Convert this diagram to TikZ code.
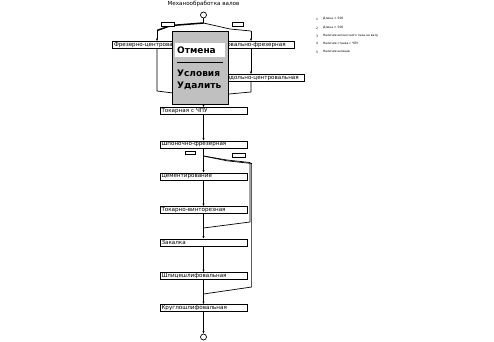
\documentclass[tikz,border=0pt]{standalone}
\usepackage{fontspec}
\setmainfont{DejaVu Sans}
\usetikzlibrary{positioning,arrows.meta}
\definecolor{menugray}{RGB}{192,192,192}

\begin{document}
\begin{tikzpicture}[x=1pt,y=-1pt,
  opbox/.style={draw,line width=0.7pt,fill=white,minimum height=7pt,
    text width=84pt,inner xsep=1.5pt,inner ysep=0pt,align=left,
    font=\fontsize{5.6}{6}\selectfont},
  cond/.style={draw,line width=0.7pt,fill=white,inner sep=0pt,
    minimum width=12pt,minimum height=3.5pt},
  flow/.style={line width=0.7pt,-{Latex[length=2.5pt,width=2.2pt]}},
  link/.style={line width=0.7pt},
  item/.style={anchor=west,inner sep=0pt,font=\bfseries\fontsize{9}{9}\selectfont},
  legtxt/.style={anchor=west,inner sep=0pt,font=\fontsize{3}{3}\selectfont}]

  \useasboundingbox (0,0) rectangle (494,341);

  % --- column position ---
  \def\cx{203.5}  % main line
  \def\lx{157}    % left branch
  \def\rx{251}    % right branch

  % --- title, start and end ---
  \node[font=\fontsize{5.6}{6}\selectfont] (title) at (\cx,4) {Механообработка валов};
  \node[draw,circle,minimum size=6pt,inner sep=0pt,line width=0.7pt] (start) at (\cx,15) {};
  \node[draw,circle,minimum size=6pt,inner sep=0pt,line width=0.7pt] (fin) at (\cx,337) {};

  % --- first operations ---
  \node[opbox] (frez) at (156,45) {Фрезерно-центровальная};
  \node[opbox] (cfr)  at (251,45) {Центровально-фрезерная};
  \node[opbox] (cnt)  at (261,78) {Продольно-центровальная};

  % --- main column ---
  \foreach \nm/\yy/\txt in {tok/111/Токарная с ЧПУ,
                            shp/144.5/Шпоночно-фрезерная,
                            cem/176.5/Цементирование,
                            vint/210/Токарно-винторезная,
                            zak/242.5/Закалка,
                            shl/276/Шлицешлифовальная,
                            krug/308/Круглошлифовальная} {
    \node[opbox] (\nm) at (\cx,\yy) {\txt};
  }

  % --- upper branches ---
  \coordinate (s1) at (\cx,23);
  \coordinate (ul) at (\lx,30.5);
  \coordinate (ur) at (\rx,31);
  \coordinate (mrg) at (\cx,100);
  \draw[link] (start) -- (s1);
  \draw[line width=1.5pt] (s1) -- (171,25.5) -- (ul);
  \draw[flow] (ul) -- (ul |- frez.north);
  \draw[link] (s1) -- (230,29) -- (ur);
  \draw[flow] (ur) -- (ur |- cfr.north);
  \draw[flow] (cfr.south -| ur) -- (cnt.north -| ur);
  \draw[link] (frez.south -| ul) -- (\lx,91) -- (173,93) -- (mrg);
  \draw[link] (cnt.south -| ur) -- (\rx,92) -- (229,94) -- (mrg);
  \draw[flow] (mrg) -- (tok);

  % --- main flow ---
  \draw[flow] (tok) -- (shp);
  \draw[flow] (shp) -- (cem);
  \draw[flow] (cem) -- (vint);
  \draw[flow] (vint) -- (zak);
  \draw[flow] (zak) -- (shl);
  \draw[flow] (shl) -- (krug);
  \draw[flow] (krug) -- (fin);

  % --- lower bypass ---
  \coordinate (b1) at (\cx,156);
  \coordinate (j1) at (\cx,228);
  \coordinate (j2) at (\cx,294);
  \draw[link] (b1) -- (227,160) -- (250,162.5) -- (250,222) -- (j1);
  \draw[link] (b1) -- (227,160.8) -- (251.6,163.5) -- (251.6,287) -- (j2);

  % --- conditions ---
  \node[cond,minimum width=13pt] (cu1) at (167.5,24.5) {};
  \node[cond,minimum width=11pt] (cu2) at (238,24.5) {};
  \node[cond,minimum width=10pt,minimum height=3pt] (cm1) at (190,153) {};
  \node[cond,minimum width=13pt] (cm2) at (238.5,155.5) {};

  % --- legend ---
  \foreach \k/\yy/\txt in {1/19/Длина < 500,
                           2/28/Длина > 500,
                           3/36/Наличие шпоночного паза на валу,
                           4/43/Наличие станка с ЧПУ,
                           5/52/Наличие шлицев} {
    \node[legtxt] (n\k) at (316,\yy) {\k};
    \node[legtxt] (l\k) at (323,\yy) {\txt};
  }

  % --- popup menu ---
  \node[draw,line width=1pt,fill=menugray,minimum width=56pt,minimum height=73pt,
    inner sep=0pt,anchor=north west] (menu) at (172,31) {};
  \node[fill=white,minimum width=50pt,minimum height=14pt,inner sep=0pt] (hl) at (200,50) {};
  \node[item] (otm) at (177,50) {Отмена};
  \draw[line width=0.8pt] (177,62) -- (223,62);
  \node[item] (usl) at (177,73) {Условия};
  \node[item] (udl) at (177,86) {Удалить};
\end{tikzpicture}
\end{document}
